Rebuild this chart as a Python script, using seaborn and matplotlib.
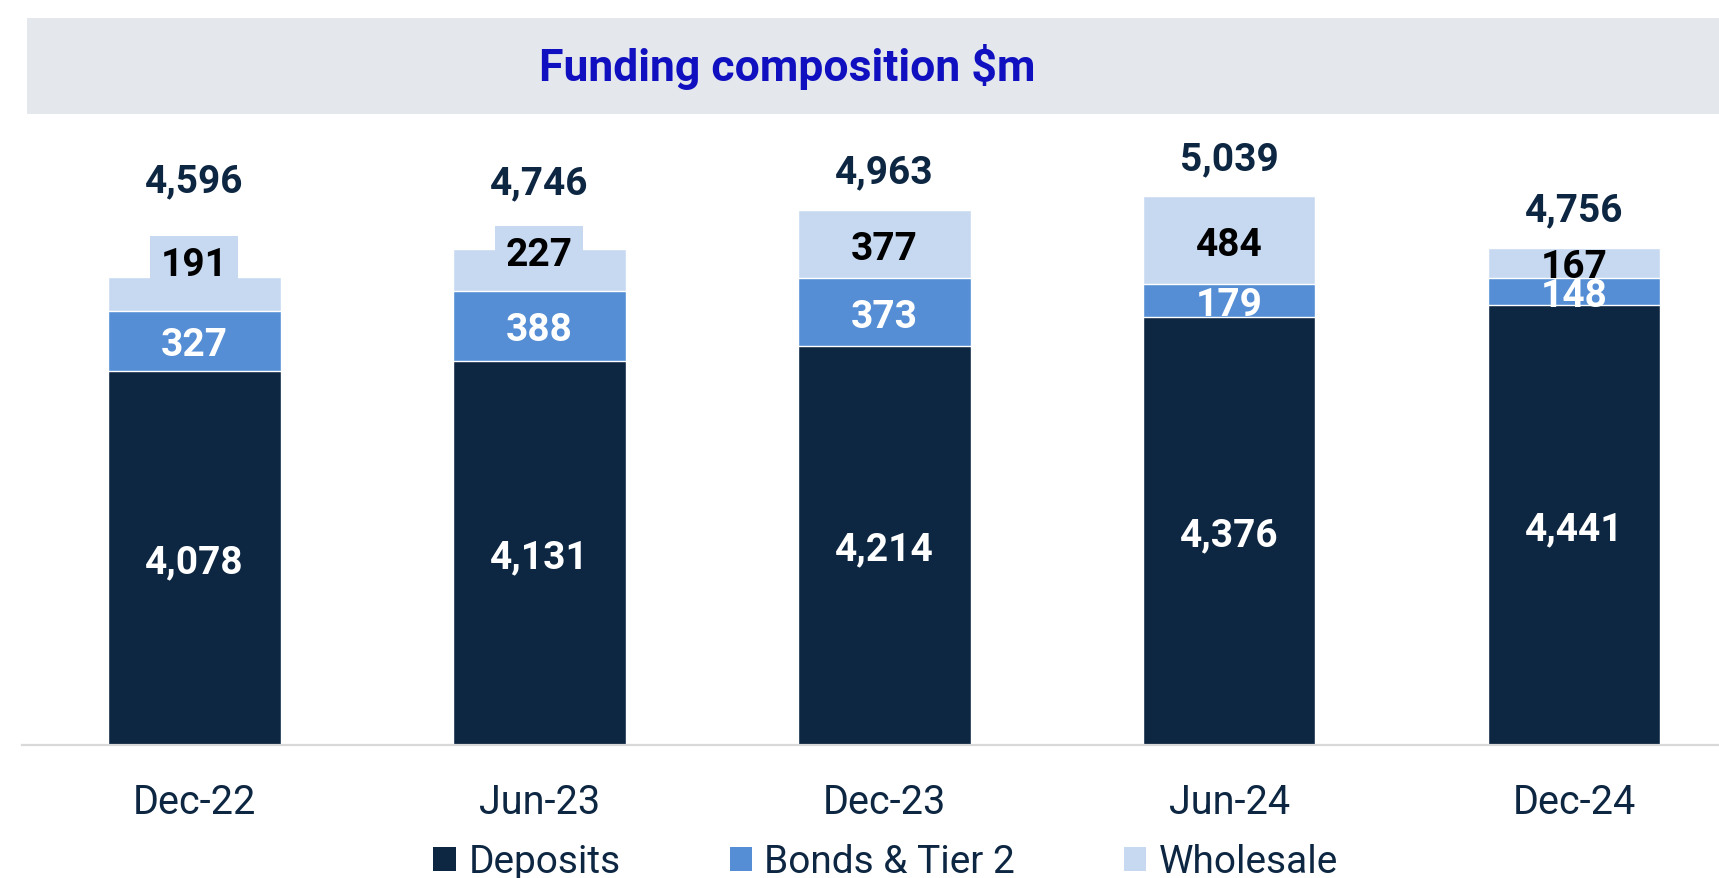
import numpy as np
import pandas as pd
import matplotlib
matplotlib.use('Agg')
import matplotlib.pyplot as plt
from matplotlib.patches import Rectangle, Patch
import seaborn as sns

# data
periods = ['Dec-22', 'Jun-23', 'Dec-23', 'Jun-24', 'Dec-24']
deposits = [4078, 4131, 4214, 4376, 4441]
bonds = [327, 388, 373, 179, 148]
wholesale = [191, 227, 377, 484, 167]
totals = [4596, 4746, 4963, 5039, 4756]
series_names = ['Deposits', 'Bonds & Tier 2', 'Wholesale']

# styling
navy = '#0d2642'
c_dep, c_bond, c_whole = '#0d2642', '#558ed5', '#c6d9f1'
title_blue = '#1010c0'
band_grey = '#e4e8ec'
whole_nudge = [24, 14, 0, 0, 0]      # points, wholesale label lifted above small bars
total_nudge = [72, 51, 30, 30, 30]   # points above bar top

sns.set_style('white')
plt.rcParams['font.family'] = ['Roboto', 'DejaVu Sans']

W, H = 1719, 879
fig = plt.figure(figsize=(W / 100, H / 100), dpi=100)

# grey title band
fig.patches.append(Rectangle((27 / W, 1 - 115 / H), 1 - 27 / W, (115 - 18.6) / H,
                             transform=fig.transFigure, facecolor=band_grey,
                             edgecolor='none', zorder=0))
fig.text(787 / W, 1 - 67 / H, 'Funding composition $m', color=title_blue,
         fontsize=32, fontweight='bold', ha='center', va='center')

ax = fig.add_axes([22 / W, 1 - 745.5 / H, 1 - 22 / W, (745.5 - 120) / H])
ax.patch.set_alpha(0)

df = pd.DataFrame({'period': periods, 'deposits': deposits,
                   'bonds': bonds, 'wholesale': wholesale})
df['dep_bond'] = df['deposits'] + df['bonds']
df['all'] = df['dep_bond'] + df['wholesale']

# stacked look: overlay cumulative bars
sns.barplot(data=df, x='period', y='all', color=c_whole, width=0.5,
            saturation=1, ax=ax)
sns.barplot(data=df, x='period', y='dep_bond', color=c_bond, width=0.5,
            saturation=1, ax=ax)
sns.barplot(data=df, x='period', y='deposits', color=c_dep, width=0.5,
            saturation=1, ax=ax)

ymin, ymax = 2017, 5465
ax.set_ylim(ymin, ymax)
ax.set_xlim(-0.5, 4.42)

lab_kw = dict(ha='center', va='center_baseline', fontsize=28, fontweight='bold')
for i in range(len(periods)):
    d, b, w = df.loc[i, 'deposits'], df.loc[i, 'bonds'], df.loc[i, 'wholesale']
    ax.text(i, (ymin + d) / 2, f'{d:,}', color='white', **lab_kw)
    ax.text(i, d + b / 2, f'{b:,}', color='white', **lab_kw)
    if whole_nudge[i] > 0:
        ax.annotate(f'{w:,}', (i, d + b + w / 2), xytext=(0, whole_nudge[i]),
                    textcoords='offset points', color='black',
                    bbox=dict(boxstyle='square,pad=0.27', fc=c_whole, ec='none'),
                    **lab_kw)
    else:
        ax.text(i, d + b + w / 2, f'{w:,}', color='black', **lab_kw)
    ax.annotate(f'{totals[i]:,}', (i, d + b + w), xytext=(0, total_nudge[i]),
                textcoords='offset points', color=navy, **lab_kw)

ax.set_xlabel('')
ax.set_ylabel('')
ax.set_yticks([])
ax.tick_params(axis='x', length=0, pad=27, labelsize=28.5, labelcolor=navy)
for s in ['top', 'left', 'right']:
    ax.spines[s].set_visible(False)
ax.spines['bottom'].set_color('#d9d9d9')
ax.spines['bottom'].set_linewidth(1.6)

handles = [Patch(facecolor=c, edgecolor='none') for c in (c_dep, c_bond, c_whole)]
fig.legend(handles, series_names, loc='center', bbox_to_anchor=(886 / W, 1 - 863 / H),
           ncol=3, frameon=False, fontsize=28, labelcolor=navy,
           handlelength=0.57, handleheight=0.57, handletextpad=0.33,
           columnspacing=2.8)

fig.savefig('out.png', dpi=100)
